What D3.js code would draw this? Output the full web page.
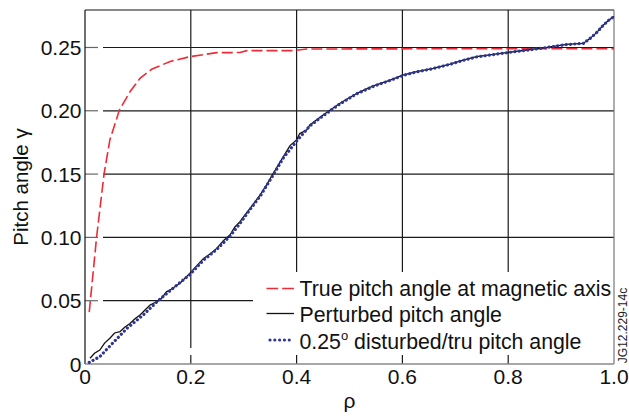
<!DOCTYPE html>
<html>
<head>
<meta charset="utf-8">
<script src="https://cdnjs.cloudflare.com/ajax/libs/d3/7.8.5/d3.min.js"></script>
<style>
  html, body { margin: 0; padding: 0; background: #fff; }
  svg { display: block; font-family: "Liberation Sans", Arial, sans-serif; }
</style>
</head>
<body>
<svg id="chart" width="629" height="418"></svg>
<script>
// true pitch angle at magnetic axis (red dashed)
const trueRho   = [0.008, 0.022, 0.036, 0.047, 0.065, 0.085, 0.104, 0.126, 0.161, 0.198, 0.249, 0.293, 0.306, 0.394, 0.419, 0.7, 1.0];
const trueGamma = [0.041, 0.1005, 0.150, 0.177, 0.2006, 0.215, 0.2256, 0.2328, 0.239, 0.2427, 0.2459, 0.246, 0.2475, 0.2475, 0.2488, 0.249, 0.249];

// perturbed pitch angle (black solid)
const pertRho   = [0.0095, 0.018, 0.028, 0.037, 0.047, 0.056, 0.066, 0.075, 0.085, 0.095, 0.104, 0.113, 0.123, 0.1355, 0.142, 0.154, 0.161, 0.18, 0.198, 0.211, 0.224, 0.237, 0.249, 0.262, 0.274, 0.283, 0.293, 0.302, 0.312, 0.322, 0.331, 0.344, 0.356, 0.365, 0.375, 0.3875, 0.40, 0.406, 0.419, 0.425, 0.45, 0.482, 0.514, 0.545, 0.577, 0.602, 0.627, 0.658, 0.69, 0.715, 0.740, 0.772, 0.80, 0.835, 0.873, 0.91, 0.942, 0.955, 0.967, 0.98, 0.99, 1.0];
const pertGamma = [0.0045, 0.0085, 0.011, 0.0165, 0.0203, 0.0245, 0.0255, 0.029, 0.032, 0.036, 0.0387, 0.0425, 0.0466, 0.0492, 0.0506, 0.057, 0.0585, 0.064, 0.0716, 0.0775, 0.0834, 0.087, 0.0913, 0.0975, 0.1019, 0.108, 0.1124, 0.1175, 0.123, 0.1285, 0.1335, 0.142, 0.1506, 0.157, 0.1638, 0.1725, 0.177, 0.182, 0.1848, 0.1888, 0.1967, 0.2059, 0.2138, 0.2196, 0.2243, 0.2283, 0.2309, 0.2335, 0.2369, 0.2401, 0.2427, 0.2446, 0.2462, 0.248, 0.2501, 0.2525, 0.2532, 0.2572, 0.2617, 0.2677, 0.2715, 0.2744];

// 0.25 deg disturbed / true pitch angle (blue dotted)
const distRho   = [0.008, 0.028, 0.047, 0.079, 0.11, 0.1355, 0.161, 0.198, 0.224, 0.249, 0.274, 0.293, 0.312, 0.331, 0.356, 0.375, 0.40, 0.425, 0.45, 0.482, 0.514, 0.545, 0.577, 0.602, 0.627, 0.658, 0.69, 0.715, 0.740, 0.772, 0.80, 0.835, 0.873, 0.91, 0.942, 0.955, 0.967, 0.98, 0.99, 1.0];
const distGamma = [0.0013, 0.0058, 0.0142, 0.028, 0.0387, 0.049, 0.058, 0.0705, 0.082, 0.0905, 0.101, 0.111, 0.122, 0.1325, 0.1495, 0.1628, 0.176, 0.188, 0.196, 0.2055, 0.2135, 0.2193, 0.2240, 0.228, 0.2307, 0.2333, 0.2367, 0.2398, 0.2425, 0.2444, 0.246, 0.2478, 0.25, 0.2523, 0.2532, 0.2572, 0.2617, 0.2677, 0.2715, 0.2744];

const xTicks = [0, 0.2, 0.4, 0.6, 0.8, 1.0];
const xTickLabels = ["0", "0.2", "0.4", "0.6", "0.8", "1.0"];
const yTicks = [0, 0.05, 0.10, 0.15, 0.20, 0.25];
const yTickLabels = ["0", "0.05", "0.10", "0.15", "0.20", "0.25"];

const legendLabels = ["True pitch angle at magnetic axis", "Perturbed pitch angle", "0.25"];

const svg = d3.select('#chart');
const margin = {left: 85, top: 10, right: 15, bottom: 54};
const W = 629, H = 418;
const x = d3.scaleLinear().domain([0, 1]).range([margin.left, W - margin.right]);
const y = d3.scaleLinear().domain([0, 0.2796]).range([H - margin.bottom, margin.top]);
const x0 = x(0), x1 = x(1), yb = y(0), yt = margin.top;

const grid = svg.append('g').attr('stroke', '#1a1a1a').attr('stroke-width', 1.2);
// horizontal grid lines with short tick at the left and a gap
yTicks.filter(d => d > 0).forEach(d => {
    grid.append('line').attr('x1', x0).attr('x2', x0 + 13).attr('y1', y(d)).attr('y2', y(d)).attr('stroke', '#666');
    grid.append('line').attr('x1', x0 + 18).attr('x2', d === 0.05 ? 253 : x1).attr('y1', y(d)).attr('y2', y(d));
});
// vertical grid lines with short tick at bottom
xTicks.filter(d => d > 0 && d < 1).forEach(d => {
    grid.append('line').attr('x1', x(d)).attr('x2', x(d)).attr('y1', yt).attr('y2', yb - 16);
    grid.append('line').attr('x1', x(d)).attr('x2', x(d)).attr('y1', yb - 9).attr('y2', yb);
});

// legend background hides the grid behind it
svg.append('rect').attr('x', 253).attr('y', 272).attr('width', x1 - 253).attr('height', 80).attr('fill', '#fff');

// frame
svg.append('line').attr('x1', x0).attr('x2', x1).attr('y1', yt).attr('y2', yt).attr('stroke', '#111').attr('stroke-width', 1.2);
svg.append('line').attr('x1', x0).attr('x2', x0).attr('y1', yt).attr('y2', yb).attr('stroke', '#111').attr('stroke-width', 1.2);
svg.append('line').attr('x1', x1).attr('x2', x1).attr('y1', yt).attr('y2', yb).attr('stroke', '#777').attr('stroke-width', 1.2);
svg.append('line').attr('x1', x0).attr('x2', x1).attr('y1', yb).attr('y2', yb).attr('stroke', '#8a8a8a').attr('stroke-width', 1.6);

// tick labels
svg.append('g').selectAll('text').data(yTicks).enter().append('text')
    .attr('x', 81.5).attr('y', d => y(d)).attr('dy', '0.36em')
    .attr('text-anchor', 'end').attr('font-size', '21px').attr('fill', '#111')
    .text((d, i) => yTickLabels[i]);
svg.append('g').selectAll('text').data(xTicks).enter().append('text')
    .attr('x', d => x(d)).attr('y', 383.5)
    .attr('text-anchor', 'middle').attr('font-size', '21px').attr('fill', '#111')
    .text((d, i) => xTickLabels[i]);

// axis titles
svg.append('text').attr('x', (x0 + x1) / 2).attr('y', 407.5).attr('text-anchor', 'middle')
    .attr('font-size', '21px').attr('fill', '#111').text('ρ');
svg.append('text').attr('transform', `translate(28,${(yt + yb) / 2}) rotate(-90)`)
    .attr('text-anchor', 'middle').attr('font-size', '20.5px').attr('fill', '#111').text('Pitch angle γ');
svg.append('text').attr('transform', `translate(627,325.5) rotate(-90)`)
    .attr('text-anchor', 'middle').attr('font-size', '12px').attr('fill', '#222').text('JG12.229-14c');

// curves
const line = d3.line().x(d => x(d[0])).y(d => y(d[1]));
const plot = svg.append('g').attr('fill', 'none');
plot.append('path').datum(d3.zip(trueRho, trueGamma)).attr('d', line)
    .attr('stroke', '#ee2b36').attr('stroke-width', 1.6).attr('stroke-dasharray', '11,4');
plot.append('path').datum(d3.zip(pertRho, pertGamma)).attr('d', line)
    .attr('stroke', '#111').attr('stroke-width', 1.3);
plot.append('path').datum(d3.zip(distRho, distGamma)).attr('d', line)
    .attr('stroke', '#2e3592').attr('stroke-width', 3.2).attr('stroke-linecap', 'round')
    .attr('stroke-dasharray', '0.01,4.3');

// legend
const lg = svg.append('g');
const rows = [288.5, 313.5, 340];
lg.append('line').attr('x1', 266.5).attr('x2', 294).attr('y1', rows[0]).attr('y2', rows[0])
    .attr('stroke', '#ee2b36').attr('stroke-width', 1.6).attr('stroke-dasharray', '11.7,4');
lg.append('line').attr('x1', 266.5).attr('x2', 294).attr('y1', rows[1]).attr('y2', rows[1])
    .attr('stroke', '#111').attr('stroke-width', 1.3);
lg.append('line').attr('x1', 270).attr('x2', 294).attr('y1', rows[2]).attr('y2', rows[2])
    .attr('stroke', '#2e3592').attr('stroke-width', 3.2).attr('stroke-linecap', 'round').attr('stroke-dasharray', '0.01,4.8');
const lt = lg.append('g').attr('font-size', '21.3px').attr('fill', '#111');
lt.append('text').attr('x', 299.5).attr('y', 295.5).text(legendLabels[0]);
lt.append('text').attr('x', 299.5).attr('y', 322).text(legendLabels[1]);
const t3 = lt.append('text').attr('x', 299.5).attr('y', 348.5);
t3.append('tspan').text(legendLabels[2]);
t3.append('tspan').attr('font-size', '13px').attr('dy', -9).text('o');
t3.append('tspan').attr('dy', 9).text(' disturbed/tru pitch angle');
</script>
</body>
</html>
